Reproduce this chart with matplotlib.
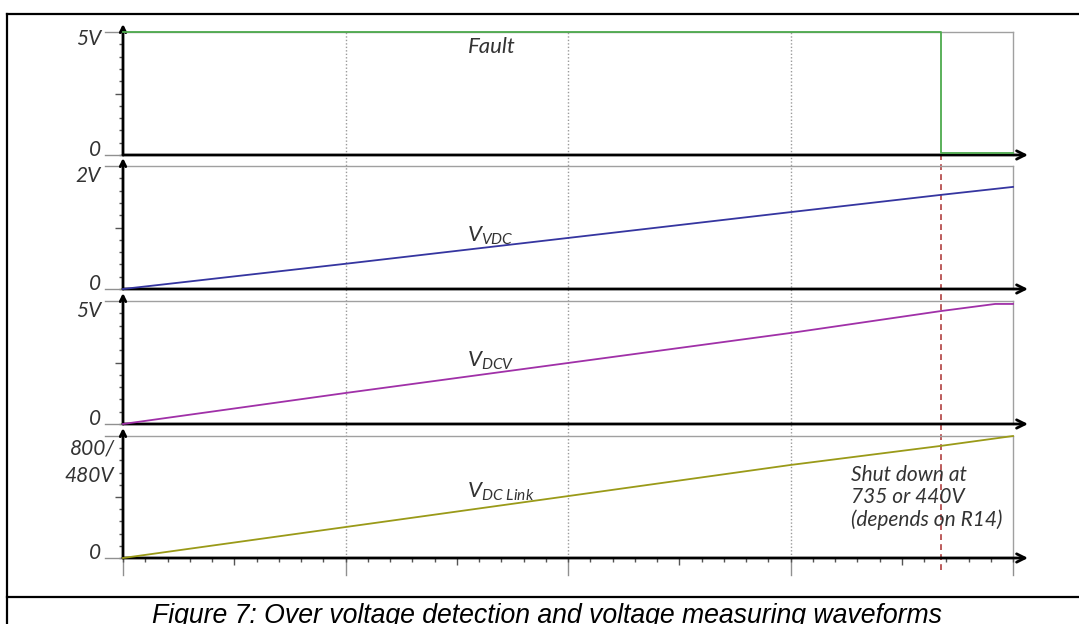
import matplotlib
matplotlib.use('Agg')
import matplotlib.pyplot as plt
import matplotlib.transforms as mtransforms
from matplotlib.ticker import MultipleLocator, FixedLocator

# ---------------------------------------------------------------
# data (time in arbitrary units, 4 divisions)
# ---------------------------------------------------------------
t = [0, 1, 2, 3, 3.675, 4]
fault_t = [0, 3.675, 3.675, 4]
fault_v = [5, 5, 0.08, 0.08]
vdc = [0, 0.41, 0.83, 1.25, 1.53, 1.66]
dcv_t = [0, 1, 2, 3, 3.675, 3.92, 4]
dcv = [0, 1.26, 2.48, 3.70, 4.59, 4.88, 4.88]
dclink = [0, 203, 406, 610, 735, 800]
shutdown_t = 3.675
grid_t = [1, 2, 3]

W, H = 1079, 624
plt.rcParams['mathtext.fontset'] = 'custom'
plt.rcParams['mathtext.it'] = 'Lato:italic'
plt.rcParams['mathtext.rm'] = 'Lato:italic'
LAB = dict(family='Lato', style='italic', color='#333333', fontsize=15)


def fx(px):
    return px / W


def fy(py):
    return 1 - py / H


fig = plt.figure(figsize=(W / 100, H / 100), dpi=100)
fig.patch.set_facecolor('white')

# overlay for grid lines / shutdown marker (spans all panels)
ov_top, ov_bot = 32, 575
ov = fig.add_axes([fx(123), fy(ov_bot), fx(890), (ov_bot - ov_top) / H])
ov.set_xlim(0, 4)
ov.set_ylim(0, 1)
ov.axis('off')
gb = (ov_bot - 558) / (ov_bot - ov_top)
for g in grid_t:
    ov.axvline(g, ymin=gb, ymax=1, color='#9a9a9a', lw=1, ls=(0, (1, 1.5)))
ov.axvline(shutdown_t, ymin=(ov_bot - 570) / (ov_bot - ov_top),
           ymax=(ov_bot - 155) / (ov_bot - ov_top),
           color='#b04040', lw=1.2, ls=(0, (3.5, 2.5)), zorder=1)

tops = [32, 166, 301, 436]
zeros = [155, 289, 424, 558]
ymaxs = [5, 2, 5, 800]
series = [(fault_t, fault_v, '#4daa4d'), (t, vdc, '#3535a0'),
          (dcv_t, dcv, '#a030a8'), (t, dclink, '#9a9a18')]

axes = []
for i in range(4):
    hpx = zeros[i] - tops[i]
    ax = fig.add_axes([fx(123), fy(zeros[i]), fx(890), hpx / H])
    ax.set_facecolor('none')
    ax.set_xlim(0, 4)
    ax.set_ylim(0, ymaxs[i])

    for s in ['top', 'right']:
        ax.spines[s].set_color('#a0a0a0')
        ax.spines[s].set_linewidth(1)
    ax.spines['left'].set_visible(False)
    ax.spines['bottom'].set_visible(False)

    # y ticks
    ax.yaxis.set_major_locator(FixedLocator([ymaxs[i] / 2]))
    ax.yaxis.set_minor_locator(MultipleLocator(ymaxs[i] / 10))
    ax.tick_params(axis='y', which='major', length=6, width=1, color='#555555', labelleft=False)
    ax.tick_params(axis='y', which='minor', length=3, width=1, color='#555555')

    # x ticks only on the bottom panel
    if i == 3:
        ax.xaxis.set_major_locator(FixedLocator([0.5, 1.5, 2.5, 3.5]))
        ax.xaxis.set_minor_locator(MultipleLocator(0.1))
        ax.tick_params(axis='x', which='major', length=5, width=1, color='#555555', labelbottom=False)
        ax.tick_params(axis='x', which='minor', length=3, width=1, color='#555555')
        tr = mtransforms.blended_transform_factory(ax.transData, ax.transAxes)
        for g in [0, 1, 2, 3, 4]:
            ax.plot([g, g], [0, -17 / hpx], transform=tr, color='#909090', lw=1, clip_on=False, zorder=1)
    else:
        ax.set_xticks([])

    # gray label lines at zero and top
    for yv in [0, 1]:
        ax.plot([-18 / 890, 0], [yv, yv], transform=ax.transAxes, color='#909090', lw=1, clip_on=False)

    # axis arrows
    ax.annotate('', xy=(1 + 15 / 890, 0), xytext=(0, 0), xycoords='axes fraction',
                arrowprops=dict(arrowstyle='->,head_length=0.6,head_width=0.3', lw=2, color='black',
                                shrinkA=0, shrinkB=0), annotation_clip=False)
    ax.annotate('', xy=(0, 1 + 8 / hpx), xytext=(0, 0), xycoords='axes fraction',
                arrowprops=dict(arrowstyle='->,head_length=0.4,head_width=0.2', lw=2, color='black',
                                shrinkA=0, shrinkB=0), annotation_clip=False)

    xs, ys, c = series[i]
    ax.plot(xs, ys, color=c, lw=1.3, zorder=5, clip_on=False)
    axes.append(ax)

# y-axis labels
fig.text(fx(101), fy(39), '5V', ha='right', va='center', **LAB)
fig.text(fx(101), fy(150), '0', ha='right', va='center', **LAB)
fig.text(fx(101), fy(176), '2V', ha='right', va='center', **LAB)
fig.text(fx(101), fy(284), '0', ha='right', va='center', **LAB)
fig.text(fx(101), fy(311), '5V', ha='right', va='center', **LAB)
fig.text(fx(101), fy(419), '0', ha='right', va='center', **LAB)
fig.text(fx(115), fy(449), '800/', ha='right', va='center', **LAB)
fig.text(fx(114), fy(476), '480V', ha='right', va='center', **LAB)
fig.text(fx(101), fy(553), '0', ha='right', va='center', **LAB)

# trace names
fig.text(fx(468), fy(53), 'Fault', ha='left', va='baseline', family='Lato', style='italic',
         color='#333333', fontsize=16)
fig.text(fx(467), fy(242), r'$V_{VDC}$', ha='left', va='baseline', fontsize=16, color='#333333')
fig.text(fx(467), fy(367), r'$V_{DCV}$', ha='left', va='baseline', fontsize=16, color='#333333')
fig.text(fx(467), fy(498), r'$V_{DC\ Link}$', ha='left', va='baseline', fontsize=16, color='#333333')

fig.text(fx(851), fy(465), 'Shut down at\n735 or 440V\n(depends on R14)', ha='left', va='top',
         linespacing=1.12, **LAB)

# document frame and caption
frame = dict(color='black', lw=1.6, transform=fig.transFigure, clip_on=False)
fig.add_artist(plt.Line2D([fx(7), 1.0], [fy(14), fy(14)], **frame))
fig.add_artist(plt.Line2D([fx(7), fx(7)], [fy(14), 0], **frame))
fig.add_artist(plt.Line2D([fx(7), 1.0], [fy(597), fy(597)], **frame))
fig.text(fx(547), fy(623), 'Figure 7: Over voltage detection and voltage measuring waveforms',
         ha='center', va='baseline', family='Liberation Sans', style='italic', fontsize=19.2, color='black')

fig.savefig('out.png', dpi=100)
